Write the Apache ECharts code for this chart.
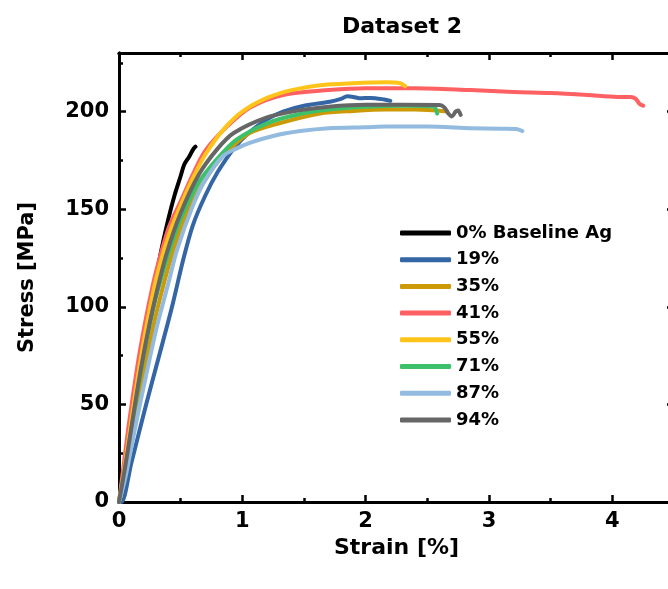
<!DOCTYPE html>
<html>
<head>
<meta charset="utf-8">
<script src="https://cdn.jsdelivr.net/npm/echarts@6/dist/echarts.min.js"></script>
<style>
  html, body { margin: 0; padding: 0; background: #fff; }
  #main { width: 668px; height: 589px; }
</style>
</head>
<body>
<div id="main"></div>
<script>
// series names (legend order)
const seriesNames = ['0% Baseline Ag', '19%', '35%', '41%', '55%', '71%', '87%', '94%'];
const seriesColors = ['#000000', '#3465a4', '#cc9a06', '#ff6163', '#ffc41a', '#3cc06a', '#93badf', '#666666'];

// [strain %, stress MPa]
const ag0 = [[0,0],[0.05,18],[0.1,40],[0.15,60],[0.2,80],[0.25,98],[0.3,115],[0.35,131],[0.4,145],[0.45,157],[0.5,167],[0.53,173],[0.57,177],[0.6,180.5],[0.62,182]];
const ag19 = [[0,0],[0.02,0],[0.1,20],[0.22,50],[0.33,76],[0.43,100],[0.52,124],[0.6,142],[0.7,157],[0.8,169],[0.93,181],[1.06,189.5],[1.2,196],[1.33,200],[1.5,203],[1.71,205],[1.8,206.5],[1.85,207.8],[1.9,207.5],[1.95,206.8],[2.04,207],[2.15,206.2],[2.2,205.5]];
const ag35 = [[0,0],[0.05,14],[0.1,32],[0.15,50],[0.2,66],[0.3,96],[0.44,129],[0.55,148],[0.65,160],[0.79,173.5],[0.9,181],[1.06,189],[1.3,194],[1.63,199],[1.9,200.3],[2.17,201],[2.4,201],[2.66,200]];
const ag41 = [[0,0],[0.03,15],[0.08,40],[0.15,70],[0.2,88],[0.25,104],[0.3,118],[0.4,140],[0.5,154],[0.6,168],[0.7,180],[0.87,192],[1.06,202],[1.33,208.5],[1.7,211],[2.0,212],[2.4,212],[2.85,211],[3.2,210],[3.5,209.5],[3.8,208.5],[4.04,207.5],[4.15,207.5],[4.19,206.5],[4.22,204],[4.25,203]];
const ag55 = [[0,0],[0.05,20],[0.1,42],[0.15,63],[0.2,82],[0.25,99],[0.3,114],[0.4,136],[0.5,152],[0.6,166],[0.7,178],[0.85,191],[1.0,200],[1.2,207],[1.4,211],[1.63,213.5],[1.9,214.5],[2.17,215],[2.28,214.5],[2.32,213]];
const ag71 = [[0,0],[0.05,17],[0.1,37],[0.15,57],[0.2,75],[0.25,91],[0.3,105],[0.4,127],[0.5,145],[0.65,164],[0.8,176],[0.95,185.5],[1.2,194],[1.45,198.5],[1.7,201],[2.0,202.5],[2.3,203],[2.55,202.6],[2.58,199]];
const ag87 = [[0,0],[0.05,12],[0.1,28],[0.15,44],[0.2,59],[0.3,88],[0.4,112],[0.47,129],[0.6,152],[0.7,165],[0.84,177],[0.95,181],[1.06,184],[1.25,187.5],[1.47,190],[1.7,191.5],[2.0,192],[2.17,192.3],[2.5,192.3],[2.85,191.5],[3.1,191.2],[3.23,191],[3.27,190]];
const ag94 = [[0,0],[0.05,18],[0.1,38],[0.15,58],[0.2,76],[0.25,92],[0.3,106],[0.38,126],[0.5,148],[0.65,168],[0.8,181],[0.93,189],[1.2,197],[1.45,200.5],[1.7,202.5],[2.0,203.5],[2.3,203.5],[2.6,203.4],[2.64,202],[2.67,199],[2.7,197.5],[2.73,200],[2.75,200.5],[2.77,198.3]];
const seriesData = [ag0, ag19, ag35, ag41, ag55, ag71, ag87, ag94];

const font = 'DejaVu Sans';
const black = '#000';

function xAx(pos, interval, len, labels) {
  return {
    type: 'value', position: pos, min: 0, max: 4.5, interval: interval,
    axisLine: { show: true, onZero: false, lineStyle: { color: black, width: 3 } },
    axisTick: { show: true, inside: true, length: len, lineStyle: { color: black, width: 2.5 } },
    axisLabel: labels ? { show: true, margin: 9, color: black, fontFamily: font, fontWeight: 'bold', fontSize: 21, showMaxLabel: false } : { show: false },
    splitLine: { show: false },
    name: labels ? 'Strain [%]' : '',
    nameLocation: 'middle', nameGap: 31,
    nameTextStyle: { color: black, fontFamily: font, fontWeight: 'bold', fontSize: 22 }
  };
}
function yAx(pos, interval, len, labels) {
  return {
    type: 'value', position: pos, min: 0, max: 230, interval: interval,
    axisLine: { show: true, onZero: false, lineStyle: { color: black, width: 3 } },
    axisTick: { show: true, inside: true, length: len, lineStyle: { color: black, width: 2.5 } },
    axisLabel: labels ? { show: true, margin: 10, color: black, fontFamily: font, fontWeight: 'bold', fontSize: 21, showMaxLabel: false } : { show: false },
    splitLine: { show: false },
    name: labels ? 'Stress [MPa]' : '',
    nameLocation: 'middle', nameGap: 81,
    nameTextStyle: { color: black, fontFamily: font, fontWeight: 'bold', fontSize: 21 }
  };
}

const chart = echarts.init(document.getElementById('main'), null, { renderer: 'canvas' });
chart.setOption({
  backgroundColor: '#fff',
  animation: false,
  title: {
    text: 'Dataset 2', left: 337, top: 11,
    textStyle: { color: black, fontFamily: font, fontWeight: 'bold', fontSize: 22 }
  },
  grid: { left: 119, right: -6, top: 53, bottom: 87, containLabel: false, outerBoundsMode: 'none' },
  legend: {
    orient: 'vertical', left: 395, top: 218,
    itemWidth: 51, itemHeight: 5, itemGap: 6.7,
    icon: 'roundRect',
    data: seriesNames,
    textStyle: { color: black, fontFamily: font, fontWeight: 'bold', fontSize: 18, lineHeight: 20 }
  },
  xAxis: [
    xAx('bottom', 1, 7, true),
    xAx('bottom', 0.5, 4, false),
    xAx('top', 1, 7, false),
    xAx('top', 0.5, 4, false)
  ],
  yAxis: [
    yAx('left', 50, 7, true),
    yAx('left', 25, 4, false),
    yAx('right', 50, 7, false),
    yAx('right', 25, 4, false)
  ],
  series: seriesNames.map((n, i) => ({
    name: n, type: 'line', data: seriesData[i],
    xAxisIndex: 0, yAxisIndex: 0,
    showSymbol: false, symbol: 'none', smooth: 0.3,
    color: seriesColors[i],
    lineStyle: { width: 4, color: seriesColors[i], cap: 'round', join: 'round' }
  }))
});
</script>
</body>
</html>
